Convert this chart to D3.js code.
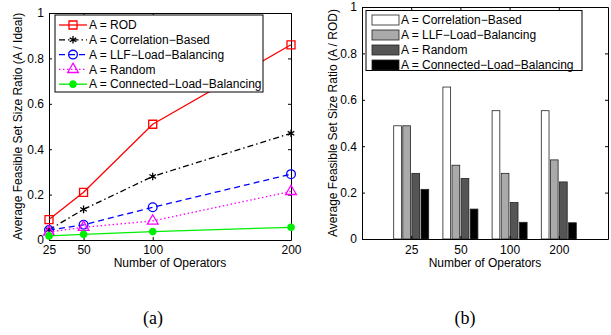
<!DOCTYPE html>
<html>
<head>
<meta charset="utf-8">
<script src="https://cdn.jsdelivr.net/npm/d3@7"></script>
<style>
  body { margin: 0; background: #fff; }
  svg { display: block; }
  text { font-family: "Liberation Sans", Arial, sans-serif; }
</style>
</head>
<body>
<div id="chart"></div>
<script>
// ---- data ----
var operators = [25, 50, 100, 200];
var yTicks = [0, 0.2, 0.4, 0.6, 0.8, 1];

// panel (a): A / Ideal
var rodRatio = [0.09, 0.21, 0.51, 0.86];
var corrRatio = [0.045, 0.135, 0.28, 0.47];
var llfRatio = [0.044, 0.067, 0.144, 0.29];
var randomRatio = [0.035, 0.056, 0.084, 0.214];
var connectedRatio = [0.018, 0.025, 0.037, 0.056];

// panel (b): A / ROD
var corrVsRod = [0.488, 0.655, 0.553, 0.553];
var llfVsRod = [0.488, 0.318, 0.283, 0.341];
var randomVsRod = [0.283, 0.261, 0.157, 0.246];
var connectedVsRod = [0.214, 0.129, 0.072, 0.07];

var lineSeries = [
    {name: "A = ROD", values: rodRatio, color: "#ff0000", dash: null, symbol: d3.symbolSquare, size: 64, fill: "none"},
    {name: "A = Correlation\u2212Based", values: corrRatio, color: "#000000", dash: "6,3,1.5,3", symbol: d3.symbolAsterisk, size: 40, fill: "none"},
    {name: "A = LLF\u2212Load\u2212Balancing", values: llfRatio, color: "#0000ff", dash: "6,4", symbol: d3.symbolCircle, size: 60, fill: "none"},
    {name: "A = Random", values: randomRatio, color: "#ff00ff", dash: "1.5,2.5", symbol: d3.symbolTriangle, size: 50, fill: "none"},
    {name: "A = Connected\u2212Load\u2212Balancing", values: connectedRatio, color: "#00ee00", dash: null, symbol: d3.symbolCircle, size: 32, fill: "#00ee00"}
];

var barSeries = [
    {name: "A = Correlation\u2212Based", values: corrVsRod, fill: "#ffffff"},
    {name: "A = LLF\u2212Load\u2212Balancing", values: llfVsRod, fill: "#aaaaaa"},
    {name: "A = Random", values: randomVsRod, fill: "#555555"},
    {name: "A = Connected\u2212Load\u2212Balancing", values: connectedVsRod, fill: "#000000"}
];

var width = 611, height = 335;

var svg = d3.select("#chart").append("svg")
    .attr("width", width)
    .attr("height", height);

function styleAxis(g) {
    g.attr("font-family", "Liberation Sans, Arial, sans-serif")
        .attr("font-size", 12);
    g.selectAll("path.domain").attr("stroke", "#000");
    g.selectAll(".tick line").attr("stroke", "#000");
    g.selectAll(".tick text").attr("fill", "#000");
}

function fmtY(d) {
    if (d === 0) return "0";
    if (d === 1) return "1";
    return d3.format(".1f")(d);
}

// ================= panel (a) =================
(function() {
    var left = 49, right = 291, top = 13, bottom = 240;
    var x = d3.scaleLinear().domain([25, 200]).range([left, right]);
    var y = d3.scaleLinear().domain([0, 1]).range([bottom, top]);
    var g = svg.append("g");

    g.append("g").attr("transform", "translate(0," + bottom + ")")
        .call(d3.axisBottom(x).tickValues(operators).tickSize(-3).tickSizeOuter(0).tickPadding(5))
        .call(styleAxis);
    g.append("g").attr("transform", "translate(0," + top + ")")
        .call(d3.axisTop(x).tickValues(operators).tickSize(-3).tickSizeOuter(0).tickFormat(""))
        .call(styleAxis);
    g.append("g").attr("transform", "translate(" + left + ",0)")
        .call(d3.axisLeft(y).tickValues(yTicks).tickSize(-3).tickSizeOuter(0).tickPadding(5).tickFormat(fmtY))
        .call(styleAxis);
    g.append("g").attr("transform", "translate(" + right + ",0)")
        .call(d3.axisRight(y).tickValues(yTicks).tickSize(-3).tickSizeOuter(0).tickFormat(""))
        .call(styleAxis);

    var line = d3.line()
        .x(function(d, i) { return x(operators[i]); })
        .y(function(d) { return y(d); });

    lineSeries.forEach(function(s) {
        g.append("path")
            .datum(s.values)
            .attr("d", line)
            .attr("fill", "none")
            .attr("stroke", s.color)
            .attr("stroke-width", 1.3)
            .attr("stroke-dasharray", s.dash);
        g.selectAll(null)
            .data(s.values)
            .enter().append("path")
            .attr("transform", function(d, i) { return "translate(" + x(operators[i]) + "," + y(d) + ")"; })
            .attr("d", d3.symbol().type(s.symbol).size(s.size))
            .attr("fill", s.fill)
            .attr("stroke", s.color)
            .attr("stroke-width", 1.3);
    });

    // legend
    var lg = g.append("g");
    lg.append("rect")
        .attr("x", 55).attr("y", 15)
        .attr("width", 208).attr("height", 77)
        .attr("fill", "#fff").attr("stroke", "#000").attr("stroke-width", 1);
    lineSeries.forEach(function(s, i) {
        var ly = 25 + i * 14.8;
        lg.append("line")
            .attr("x1", 59).attr("x2", 87).attr("y1", ly).attr("y2", ly)
            .attr("stroke", s.color).attr("stroke-width", 1.3)
            .attr("stroke-dasharray", s.dash);
        lg.append("path")
            .attr("transform", "translate(73," + ly + ")")
            .attr("d", d3.symbol().type(s.symbol).size(s.size))
            .attr("fill", s.fill)
            .attr("stroke", s.color)
            .attr("stroke-width", 1.3);
        lg.append("text")
            .attr("x", 89).attr("y", ly).attr("dy", "0.35em")
            .attr("font-size", 12)
            .text(s.name);
    });

    g.append("text")
        .attr("x", (left + right) / 2).attr("y", 267)
        .attr("text-anchor", "middle").attr("font-size", 12)
        .text("Number of Operators");
    g.append("text")
        .attr("transform", "translate(22," + (top + bottom) / 2 + ") rotate(-90)")
        .attr("text-anchor", "middle").attr("font-size", 12)
        .text("Average Feasible Set Size Ratio (A / Ideal)");
    g.append("text")
        .attr("x", 153).attr("y", 324)
        .attr("text-anchor", "middle")
        .style("font-family", "'Liberation Serif', 'Times New Roman', serif")
        .attr("font-size", 18)
        .text("(a)");
})();

// ================= panel (b) =================
(function() {
    var left = 362, right = 608, top = 7, bottom = 239;
    var x = d3.scaleLinear().domain([0, 5]).range([left, right]);
    var y = d3.scaleLinear().domain([0, 1]).range([bottom, top]);
    var inner = d3.scaleBand()
        .domain(barSeries.map(function(s) { return s.name; }))
        .range([-17.5, 17.5])
        .paddingInner(0.15);
    var catIdx = operators.map(function(d, i) { return i + 1; });
    var g = svg.append("g");

    barSeries.forEach(function(s) {
        g.selectAll(null)
            .data(s.values)
            .enter().append("rect")
            .attr("x", function(d, i) { return x(catIdx[i]) + inner(s.name); })
            .attr("width", inner.bandwidth())
            .attr("y", function(d) { return y(d); })
            .attr("height", function(d) { return y(0) - y(d); })
            .attr("fill", s.fill)
            .attr("stroke", "#222")
            .attr("stroke-width", 0.8);
    });

    var opLabel = function(d) { return operators[d - 1]; };
    g.append("g").attr("transform", "translate(0," + bottom + ")")
        .call(d3.axisBottom(x).tickValues(catIdx).tickFormat(opLabel).tickSize(-3).tickSizeOuter(0).tickPadding(6))
        .call(styleAxis);
    g.append("g").attr("transform", "translate(0," + top + ")")
        .call(d3.axisTop(x).tickValues(catIdx).tickSize(-3).tickSizeOuter(0).tickFormat(""))
        .call(styleAxis);
    g.append("g").attr("transform", "translate(" + left + ",0)")
        .call(d3.axisLeft(y).tickValues(yTicks).tickSize(-3).tickSizeOuter(0).tickPadding(5).tickFormat(fmtY))
        .call(styleAxis);
    g.append("g").attr("transform", "translate(" + right + ",0)")
        .call(d3.axisRight(y).tickValues(yTicks).tickSize(-3).tickSizeOuter(0).tickFormat(""))
        .call(styleAxis);

    // legend
    var lg = g.append("g");
    lg.append("rect")
        .attr("x", 366).attr("y", 10.5)
        .attr("width", 216).attr("height", 60)
        .attr("fill", "#fff").attr("stroke", "#000").attr("stroke-width", 1);
    barSeries.forEach(function(s, i) {
        var ly = 20 + i * 15;
        lg.append("rect")
            .attr("x", 372).attr("y", ly - 5)
            .attr("width", 27).attr("height", 10)
            .attr("fill", s.fill).attr("stroke", "#222").attr("stroke-width", 0.8);
        lg.append("text")
            .attr("x", 401).attr("y", ly).attr("dy", "0.35em")
            .attr("font-size", 12)
            .text(s.name);
    });

    g.append("text")
        .attr("x", (left + right) / 2).attr("y", 267)
        .attr("text-anchor", "middle").attr("font-size", 12)
        .text("Number of Operators");
    g.append("text")
        .attr("transform", "translate(337," + (top + bottom) / 2 + ") rotate(-90)")
        .attr("text-anchor", "middle").attr("font-size", 12)
        .text("Average Feasible Set Size Ratio (A / ROD)");
    g.append("text")
        .attr("x", 465).attr("y", 324)
        .attr("text-anchor", "middle")
        .style("font-family", "'Liberation Serif', 'Times New Roman', serif")
        .attr("font-size", 18)
        .text("(b)");
})();
</script>
</body>
</html>
